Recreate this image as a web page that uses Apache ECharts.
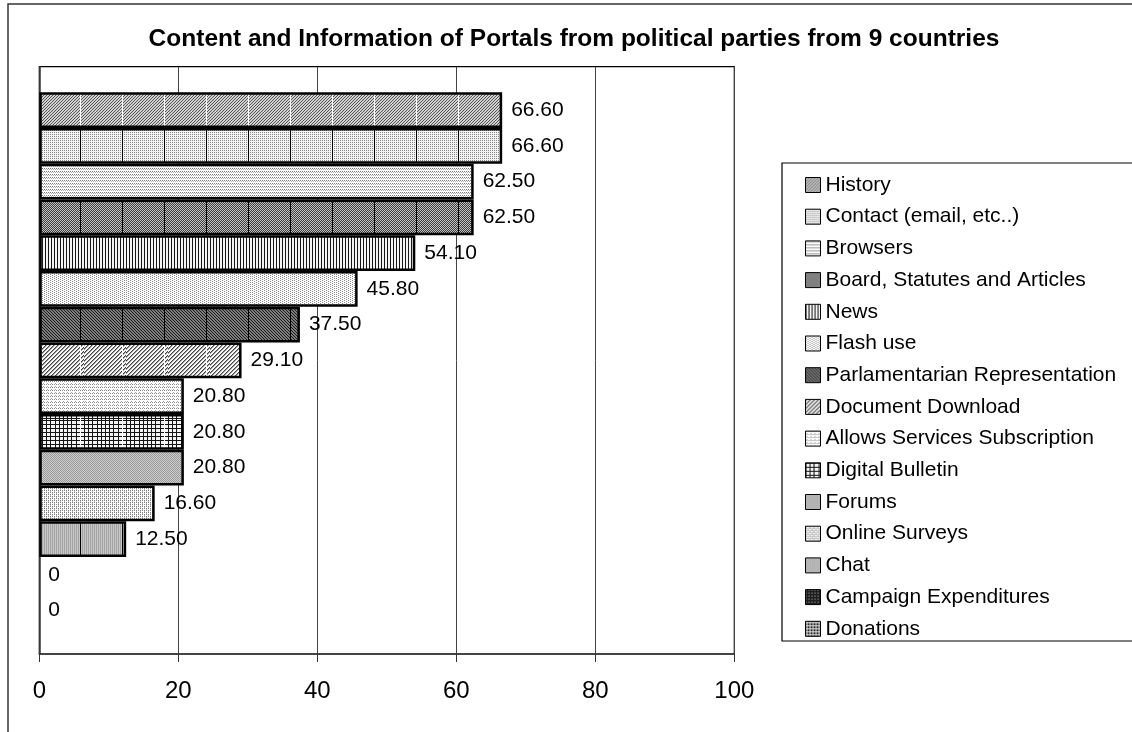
<!DOCTYPE html>
<html><head><meta charset="utf-8">
<script src="https://cdn.jsdelivr.net/npm/echarts@6/dist/echarts.min.js"></script>
<style>html,body{margin:0;padding:0;background:#fff}#c{width:1132px;height:732px}</style>
</head><body><div id="c"></div>
<script>
const titleText = 'Content and Information of Portals from political parties from 9 countries';
const categories = ['Portals'];
const seriesNames = ['History', 'Contact (email, etc..)', 'Browsers', 'Board, Statutes and Articles', 'News', 'Flash use', 'Parlamentarian Representation', 'Document Download', 'Allows Services Subscription', 'Digital Bulletin', 'Forums', 'Online Surveys', 'Chat', 'Campaign Expenditures', 'Donations'];
const seriesValues = [66.6, 66.6, 62.5, 62.5, 54.1, 45.8, 37.5, 29.1, 20.8, 20.8, 20.8, 16.6, 12.5, 0, 0];
const xMin = 0, xMax = 100, xStep = 20;
const patternKinds = ['hist', 'contact', 'browsers', 'board', 'news', 'flash', 'parl', 'doc', 'allows', 'digital', 'forums', 'online', 'chat', 'campaign', 'donations'];

const FONT = '"Liberation Sans", Arial, sans-serif';

function makeTile(kind) {
  const W = 42, H = 42;
  const c = document.createElement('canvas'); c.width = W; c.height = H;
  const g = c.getContext('2d');
  const px = (x, y, col) => { g.fillStyle = col; g.fillRect(x, y, 1, 1); };
  const bg = col => { g.fillStyle = col; g.fillRect(0, 0, W, H); };
  let seam = null;
  for (let y = 0; y < H; y++) for (let x = 0; x < W; x++) {
    switch (kind) {
      case 'hist': if (x === 0 && y === 0) bg('#d0d0d0'); if ((x + y) % 3 === 0) px(x, y, '#555'); seam = '#fff'; break;
      case 'contact': if (x === 0 && y === 0) bg('#f2f2f2'); if (x % 2 === 0 && y % 2 === 0) px(x, y, '#8a8a8a'); seam = '#000'; break;
      case 'browsers': if (x === 0 && y === 0) bg('#ffffff'); if (y % 3 === 0 && x % 2 === 0) px(x, y, '#7a7a7a'); if (y % 3 === 1 && x % 2 === 1) px(x, y, '#b0b0b0'); break;
      case 'board': if (x === 0 && y === 0) bg('#3c3c3c'); if ((x + y) % 2 === 0) px(x, y, '#c4c4c4'); seam = '#000'; break;
      case 'news': if (x === 0 && y === 0) bg('#f4f4f4'); if (x % 3 === 0) px(x, y, '#151515'); break;
      case 'flash': if (x === 0 && y === 0) bg('#fbfbfb'); if ((x + 2 * y) % 4 === 0) px(x, y, '#8c8c8c'); break;
      case 'parl': if (x === 0 && y === 0) bg('#7c7c7c'); if (((x - y) % 3 + 3) % 3 === 0) px(x, y, '#1c1c1c'); seam = '#000'; break;
      case 'doc': if (x === 0 && y === 0) bg('#f8f8f8'); if ((x + y) % 4 === 0) px(x, y, '#444'); if ((x + y) % 4 === 1) px(x, y, '#9c9c9c'); seam = '#fff'; break;
      case 'allows': if (x === 0 && y === 0) bg('#ffffff'); if (y % 3 === 0 && x % 2 === 0) px(x, y, '#8a8a8a'); if (y % 3 === 2 && x % 4 === 1) px(x, y, '#a8a8a8'); break;
      case 'digital': if (x === 0 && y === 0) bg('#f4f4f4'); if (y % 4 === 0 || [0,4,8,13,17,21,25,29,34,38].indexOf(x) >= 0) px(x, y, '#151515'); seam = '#fff'; break;
      case 'forums': if (x === 0 && y === 0) bg('#cdcdcd'); if ((x + y) % 2 === 0) px(x, y, '#9a9a9a'); break;
      case 'online': if (x === 0 && y === 0) bg('#ffffff'); if (x % 2 === 0 && y % 2 === 0) px(x, y, '#7c7c7c'); if ((x + y) % 4 === 1 && y % 2 === 1) px(x, y, '#bbbbbb'); break;
      case 'chat': if (x === 0 && y === 0) bg('#c6c6c6'); if (x % 2 === 0) px(x, y, '#a4a4a4'); seam = '#000'; break;
      case 'campaign': if (x === 0 && y === 0) bg('#1e1e1e'); if (x % 3 === 0 && y % 3 === 0) px(x, y, '#bcbcbc'); break;
      case 'donations': if (x === 0 && y === 0) bg('#2a2a2a'); if (x % 3 === 1 || y % 3 === 1) px(x, y, '#e0e0e0'); break;
    }
  }
  if (seam) { g.fillStyle = seam; g.fillRect(38, 0, 1, H); }
  return c;
}

const chart = echarts.init(document.getElementById('c'), null, { renderer: 'canvas' });
const option = {
  animation: false,
  backgroundColor: '#fff',
  textStyle: { fontFamily: FONT },
  graphic: [
    { type: 'rect', z: -10, shape: { x: 8, y: 4, width: 1200, height: 800 }, style: { fill: '#fff', stroke: '#333', lineWidth: 1.5 } },
    { type: 'rect', z: -5, shape: { x: 782, y: 163, width: 400, height: 478 }, style: { fill: '#fff', stroke: '#000', lineWidth: 1.2 } },
    { type: 'text', x: 574, y: 39, style: { text: titleText, font: 'bold 24.5px ' + FONT, fill: '#000', textAlign: 'center', textVerticalAlign: 'middle' } }
  ],
  grid: { left: 39.3, right: 1132 - 734.3, top: 66.7, bottom: 732 - 654, show: true, borderColor: '#000', borderWidth: 1.2, backgroundColor: 'transparent' },
  legend: {
    orient: 'vertical', left: 800, top: 169, icon: 'rect', itemWidth: 15, itemHeight: 15, itemGap: 9.7,
    selectedMode: false, data: seriesNames,
    itemStyle: { borderColor: '#000', borderWidth: 1 },
    textStyle: { fontSize: 21, lineHeight: 22, color: '#000', fontFamily: FONT, padding: [0, 0, 0, 0] }
  },
  xAxis: {
    type: 'value', min: xMin, max: xMax, interval: xStep,
    axisLine: { show: true, lineStyle: { color: '#333', width: 1.5 } },
    axisTick: { show: true, length: 8, lineStyle: { color: '#333', width: 1 } },
    axisLabel: { fontSize: 24, color: '#000', margin: 25, fontFamily: FONT },
    splitLine: { show: true, lineStyle: { color: '#444', width: 1 } }
  },
  yAxis: {
    type: 'category', data: categories,
    axisLine: { show: true, lineStyle: { color: '#333', width: 1.5 } },
    axisTick: { show: false }, axisLabel: { show: false }, splitLine: { show: false }
  },
  series: seriesNames.map((n, i) => ({
    name: n, type: 'bar',
    data: [seriesValues[i] === 0 ? { value: seriesValues[i], itemStyle: { borderWidth: 0 } } : seriesValues[i]],
    barGap: '0%', barCategoryGap: '8.7%',
    itemStyle: { color: { image: makeTile(patternKinds[i]), repeat: 'repeat' }, borderColor: '#000', borderWidth: 2.5 },
    label: { show: true, position: 'right', distance: 9, fontSize: 21, color: '#000', fontFamily: FONT,
      formatter: p => (p.value === 0 ? '0' : p.value.toFixed(2)) },
    emphasis: { disabled: true }
  }))
};
chart.setOption(option);
</script>
</body></html>
